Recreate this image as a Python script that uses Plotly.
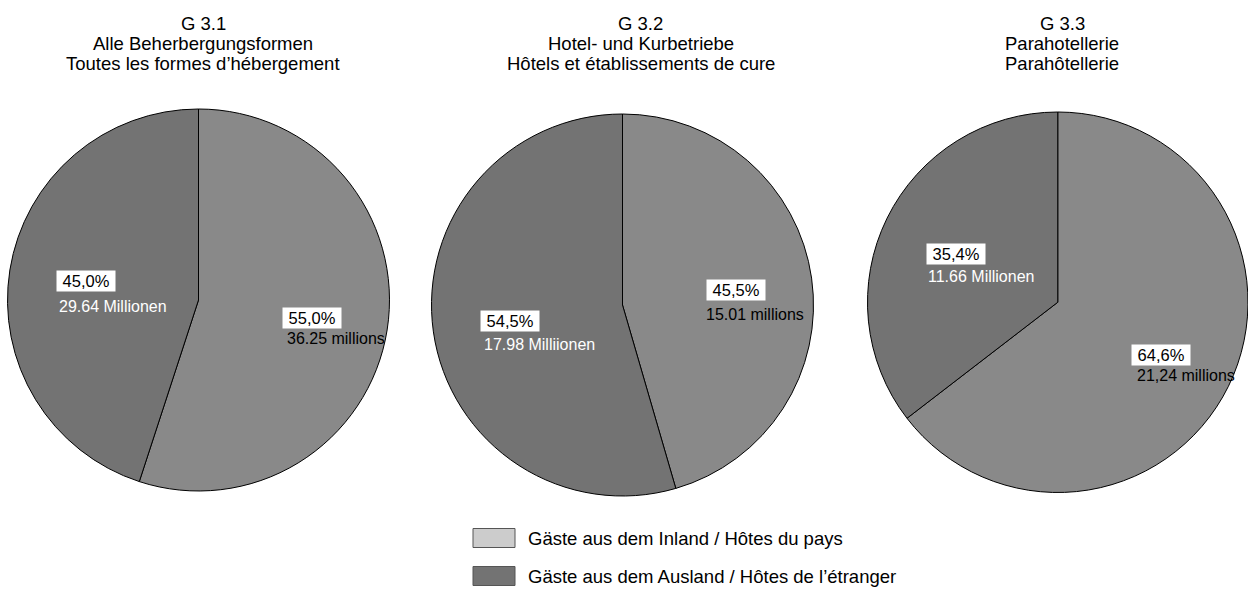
import plotly.graph_objects as go

W, H = 1248, 590

# ---- data ----
categories = ["Gäste aus dem Inland / Hôtes du pays",
              "Gäste aus dem Ausland / Hôtes de l’étranger"]
chart_ids = ["G 3.1", "G 3.2", "G 3.3"]
titles_de = ["Alle Beherbergungsformen", "Hotel- und Kurbetriebe", "Parahotellerie"]
titles_fr = ["Toutes les formes d’hébergement", "Hôtels et établissements de cure", "Parahôtellerie"]
inland_mio = [36.25, 15.01, 21.24]
ausland_mio = [29.64, 17.98, 11.66]
inland_labels = ["36.25 millions", "15.01 millions", "21,24 millions"]
ausland_labels = ["29.64 Millionen", "17.98 Milliionen", "11.66 Millionen"]

# ---- styling / layout ----
slice_colors = ["#898989", "#737373"]
legend_colors = ["#cccccc", "#737373"]
FONT = "Liberation Sans, Arial, Helvetica, sans-serif"

# pie boxes in pixels (left, top, size)
pie_boxes = [(7.5, 109, 382), (431.5, 114, 382), (867.5, 112, 380.5)]
title_cx = [203, 641, 1062]
title_y = [23, 43.5, 63.5]
# label anchor positions (pixels): (pct box center x, y), (amount left x, y)
lab_aus = [((85.5, 281), (57, 306)), ((510, 321), (482, 344)), ((956, 253.5), (926, 276))]
lab_in = [((311.5, 318), (285, 338)), ((735.5, 290), (704, 314)), ((1161, 354.5), (1135, 376))]


def px(x):
    return x / W


def py(y):
    return 1 - y / H


fig = go.Figure()
annotations = []
shapes = []

for i in range(3):
    l, t, s = pie_boxes[i]
    x0, x1 = px(l), min(1.0, px(l + s))
    y0, y1 = py(t + s), py(t)
    fig.add_trace(go.Pie(
        labels=categories,
        values=[inland_mio[i], ausland_mio[i]],
        sort=False,
        direction="clockwise",
        rotation=0,
        marker=dict(colors=slice_colors, line=dict(color="#000000", width=1)),
        textinfo="none",
        hoverinfo="label+value+percent",
        showlegend=False,
        domain=dict(x=[x0, x1], y=[y0, y1]),
    ))

    total = inland_mio[i] + ausland_mio[i]
    pct_in = f"{inland_mio[i] / total * 100:.1f}%".replace(".", ",")
    pct_aus = f"{ausland_mio[i] / total * 100:.1f}%".replace(".", ",")

    # titles
    for j, txt in enumerate([chart_ids[i], titles_de[i], titles_fr[i]]):
        annotations.append(dict(
            text=txt, x=px(title_cx[i]), y=py(title_y[j]), xref="paper", yref="paper",
            xanchor="center", yanchor="middle", showarrow=False,
            font=dict(family=FONT, size=18.5, color="#000000")))

    # slice labels
    for (pc, am), pct, amt, col in [(lab_aus[i], pct_aus, ausland_labels[i], "#ffffff"),
                                    (lab_in[i], pct_in, inland_labels[i], "#000000")]:
        annotations.append(dict(
            text="\u00a0" + pct + "\u00a0", x=px(pc[0]), y=py(pc[1]), xref="paper", yref="paper",
            xanchor="center", yanchor="middle", showarrow=False, bgcolor="#ffffff", borderpad=1,
            font=dict(family=FONT, size=16.5, color="#000000")))
        annotations.append(dict(
            text=amt, x=px(am[0]), y=py(am[1]), xref="paper", yref="paper",
            xanchor="left", yanchor="middle", showarrow=False,
            font=dict(family=FONT, size=16, color=col)))

# legend (swatches drawn as shapes)
leg_y = [538, 576]
for k in range(2):
    shapes.append(dict(type="rect", xref="paper", yref="paper",
                       x0=px(473), x1=px(515), y0=py(leg_y[k] - 9.5), y1=py(leg_y[k] + 9.5),
                       fillcolor=legend_colors[k], line=dict(color="#555555", width=1)))
    annotations.append(dict(
        text=categories[k], x=px(525.5), y=py(leg_y[k]), xref="paper", yref="paper",
        xanchor="left", yanchor="middle", showarrow=False,
        font=dict(family=FONT, size=18.5, color="#000000")))

fig.update_layout(
    width=W, height=H,
    margin=dict(l=0, r=0, t=0, b=0),
    paper_bgcolor="#ffffff", plot_bgcolor="#ffffff",
    annotations=annotations, shapes=shapes,
    showlegend=False,
)

fig.write_html("out.html", config={"displayModeBar": False},
               post_script="document.body.style.margin='0';document.body.style.overflow='hidden';")
